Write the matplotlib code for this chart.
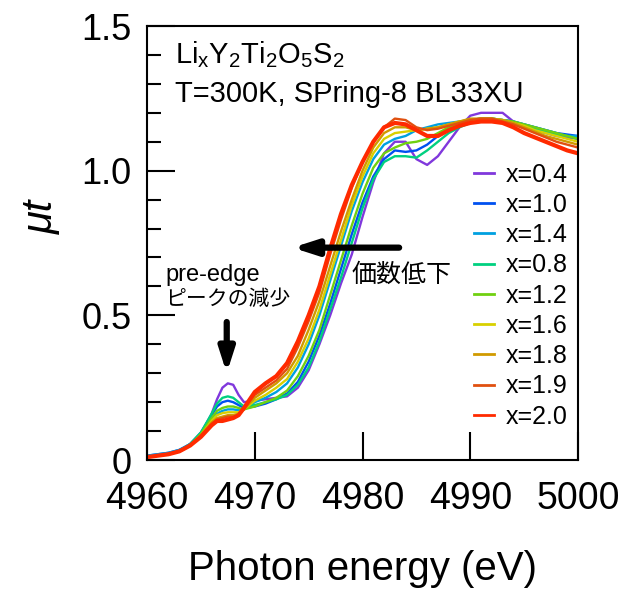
import matplotlib
matplotlib.use("Agg")
import matplotlib.pyplot as plt

plt.rcParams['font.family'] = ['Liberation Sans', 'DejaVu Sans']

energy = [4960, 4962, 4963, 4964, 4965, 4966, 4966.5, 4967, 4967.5, 4968, 4968.5, 4969,
          4970, 4971, 4972, 4973, 4974, 4975, 4976, 4977, 4978, 4979, 4980, 4981, 4982,
          4983, 4984, 4985, 4986, 4987, 4988, 4989, 4990, 4991, 4992, 4993, 4994, 4995,
          4996, 4997, 4998, 4999, 5000]

labels = ["x=0.4", "x=1.0", "x=1.4", "x=0.8", "x=1.2", "x=1.6", "x=1.8", "x=1.9", "x=2.0"]
colors = ["#8038dc", "#0050f0", "#00a0e0", "#00d080", "#70d010", "#d8d000", "#d09a00", "#e05010", "#ff2a00"]

mu_04 = [0.01, 0.02, 0.03, 0.055, 0.09, 0.16, 0.21, 0.25, 0.265, 0.26, 0.225, 0.20,
         0.205, 0.21, 0.215, 0.22, 0.25, 0.31, 0.40, 0.50, 0.61, 0.71, 0.84, 0.96, 1.06,
         1.10, 1.10, 1.04, 1.02, 1.05, 1.10, 1.15, 1.19, 1.20, 1.20, 1.20, 1.17, 1.15,
         1.14, 1.13, 1.12, 1.115, 1.11]
mu_10 = [0.015, 0.025, 0.035, 0.055, 0.095, 0.155, 0.185, 0.20, 0.205, 0.20, 0.19, 0.18,
         0.185, 0.195, 0.21, 0.23, 0.27, 0.34, 0.43, 0.54, 0.66, 0.78, 0.89, 0.98, 1.04,
         1.07, 1.065, 1.07, 1.09, 1.12, 1.14, 1.16, 1.175, 1.18, 1.18, 1.175, 1.17, 1.16,
         1.15, 1.14, 1.13, 1.125, 1.12]
mu_14 = [0.015, 0.025, 0.035, 0.055, 0.09, 0.14, 0.16, 0.17, 0.175, 0.175, 0.172, 0.175,
         0.20, 0.215, 0.235, 0.265, 0.32, 0.40, 0.50, 0.62, 0.74, 0.86, 0.96, 1.04, 1.09,
         1.11, 1.12, 1.14, 1.15, 1.16, 1.165, 1.17, 1.175, 1.18, 1.18, 1.175, 1.17, 1.16,
         1.15, 1.14, 1.13, 1.12, 1.12]
mu_08 = [0.01, 0.02, 0.03, 0.055, 0.095, 0.16, 0.195, 0.215, 0.22, 0.215, 0.20, 0.185,
         0.19, 0.20, 0.21, 0.225, 0.26, 0.32, 0.41, 0.52, 0.63, 0.75, 0.87, 0.97, 1.03,
         1.05, 1.05, 1.045, 1.07, 1.10, 1.13, 1.15, 1.165, 1.175, 1.175, 1.17, 1.165, 1.155,
         1.145, 1.135, 1.125, 1.12, 1.11]
mu_12 = [0.01, 0.02, 0.03, 0.05, 0.09, 0.145, 0.17, 0.18, 0.185, 0.185, 0.18, 0.175,
         0.185, 0.20, 0.215, 0.24, 0.29, 0.36, 0.45, 0.57, 0.69, 0.81, 0.92, 1.01, 1.06,
         1.08, 1.095, 1.10, 1.11, 1.13, 1.15, 1.16, 1.17, 1.18, 1.18, 1.175, 1.17, 1.16,
         1.15, 1.14, 1.13, 1.12, 1.11]
mu_16 = [0.01, 0.02, 0.03, 0.05, 0.085, 0.135, 0.155, 0.162, 0.165, 0.165, 0.165, 0.175,
         0.205, 0.225, 0.25, 0.28, 0.34, 0.42, 0.52, 0.64, 0.76, 0.88, 0.98, 1.06, 1.11,
         1.13, 1.135, 1.14, 1.145, 1.15, 1.16, 1.17, 1.175, 1.18, 1.18, 1.175, 1.165, 1.155,
         1.14, 1.13, 1.12, 1.11, 1.10]
mu_18 = [0.01, 0.02, 0.03, 0.05, 0.085, 0.13, 0.145, 0.15, 0.155, 0.155, 0.16, 0.175,
         0.215, 0.24, 0.265, 0.30, 0.36, 0.45, 0.55, 0.67, 0.79, 0.90, 1.00, 1.08, 1.13,
         1.15, 1.15, 1.14, 1.145, 1.15, 1.16, 1.17, 1.18, 1.18, 1.18, 1.175, 1.165, 1.15,
         1.135, 1.12, 1.11, 1.10, 1.09]
mu_19 = [0.01, 0.02, 0.03, 0.05, 0.085, 0.125, 0.14, 0.145, 0.15, 0.15, 0.155, 0.18,
         0.225, 0.25, 0.275, 0.315, 0.39, 0.48, 0.58, 0.71, 0.83, 0.94, 1.03, 1.10, 1.15,
         1.18, 1.175, 1.15, 1.14, 1.145, 1.155, 1.165, 1.175, 1.18, 1.18, 1.17, 1.16, 1.145,
         1.13, 1.115, 1.10, 1.09, 1.08]
mu_20 = [0.01, 0.02, 0.03, 0.05, 0.08, 0.12, 0.135, 0.135, 0.14, 0.145, 0.155, 0.18,
         0.235, 0.265, 0.29, 0.335, 0.41, 0.50, 0.60, 0.73, 0.85, 0.95, 1.03, 1.10, 1.15,
         1.165, 1.16, 1.14, 1.12, 1.12, 1.14, 1.155, 1.165, 1.17, 1.17, 1.165, 1.15, 1.13,
         1.115, 1.10, 1.085, 1.07, 1.06]

series = [mu_04, mu_10, mu_14, mu_08, mu_12, mu_16, mu_18, mu_19, mu_20]

fig = plt.figure(figsize=(6.25, 5.9), dpi=100)
ax = fig.add_axes([0.2352, 0.2203, 0.6896, 0.7356])

for mu, c, lab in zip(series, colors, labels):
    lw = 3.0 if lab == "x=2.0" else 1.7
    ax.plot(energy, mu, color=c, lw=lw, label=lab)

ax.set_xlim(4960, 5000)
ax.set_ylim(0, 1.5)
ax.set_xticks([4960, 4970, 4980, 4990, 5000])
ax.set_xticklabels(["4960", "4970", "4980", "4990", "5000"])
ax.set_yticks([0, 0.5, 1.0, 1.5])
ax.set_yticklabels(["0", "0.5", "1.0", "1.5"])
ax.set_yticks([0.1, 0.2, 0.3, 0.4, 0.6, 0.7, 0.8, 0.9, 1.1, 1.2, 1.3, 1.4], minor=True)
ax.tick_params(axis='both', which='major', direction='in', length=20, width=1.5, labelsize=27)
ax.tick_params(axis='y', which='major', labelsize=26, pad=11)
ax.tick_params(axis='y', which='minor', direction='in', length=10, width=1.5)
ax.tick_params(axis='x', which='major', pad=15)
for s in ax.spines.values():
    s.set_linewidth(1.5)

ax.set_xlabel("Photon energy (eV)", fontsize=29, labelpad=24)
ax.text(-0.245, 0.56, "μt", transform=ax.transAxes, rotation=90, fontsize=30,
        style='italic', ha='center', va='center')

ax.text(0.065, 0.915, r"Li$_\mathregular{x}$Y$_\mathregular{2}$Ti$_\mathregular{2}$O$_\mathregular{5}$S$_\mathregular{2}$",
        transform=ax.transAxes, fontsize=21, ha='left', va='baseline')
ax.text(0.065, 0.825, "T=300K, SPring-8 BL33XU", transform=ax.transAxes, fontsize=21,
        ha='left', va='baseline')

ax.annotate("", xy=(4973.5, 0.734), xytext=(4983.4, 0.734),
            arrowprops=dict(arrowstyle="-|>,head_length=1.4,head_width=0.45", lw=4.5, color='black',
                            shrinkA=0, shrinkB=0))
ax.annotate("", xy=(4967.4, 0.30), xytext=(4967.4, 0.477),
            arrowprops=dict(arrowstyle="-|>,head_length=1.4,head_width=0.45", lw=4.5, color='black',
                            shrinkA=0, shrinkB=0))

ax.text(4961.7, 0.62, "pre-edge", fontsize=17, ha='left', va='baseline')
ax.text(4961.7, 0.555, "ピークの減少", fontsize=15, ha='left', va='center',
        family=['Noto Sans CJK JP', 'DejaVu Sans'])
ax.text(4979.0, 0.64, "価数低下", fontsize=18, ha='left', va='center',
        family=['Noto Sans CJK JP', 'DejaVu Sans'])

leg = ax.legend(loc='upper left', bbox_to_anchor=(0.758, 0.685), frameon=False, fontsize=18,
                handlelength=0.8, handletextpad=0.5, labelspacing=0.25, borderpad=0, borderaxespad=0)
for h in leg.get_lines():
    h.set_linewidth(2.0)

fig.savefig("out.png", dpi=100)
